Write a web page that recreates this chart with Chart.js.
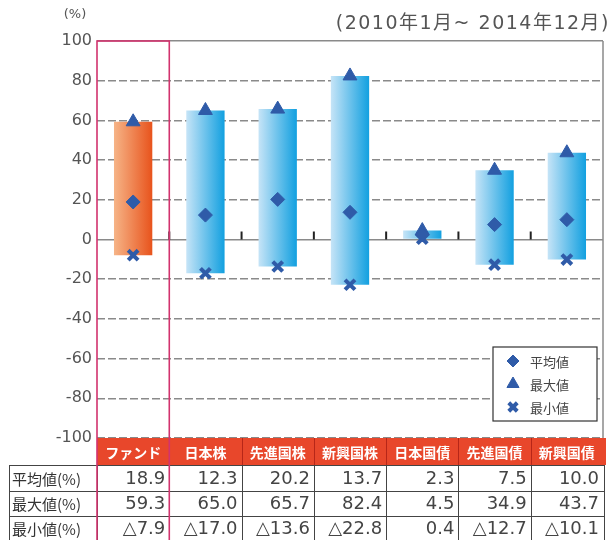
<!DOCTYPE html>
<html>
<head>
<meta charset="utf-8">
<script src="https://cdn.jsdelivr.net/npm/chart.js@4.4.1/dist/chart.umd.min.js"></script>
<style>
  body { margin: 0; background: #fff; }
  #wrap { position: relative; width: 614px; height: 540px; }
</style>
</head>
<body>
<div id="wrap"><canvas id="rangeChart" width="614" height="540"></canvas></div>
<script>
const categories = ["ファンド", "日本株", "先進国株", "新興国株", "日本国債", "先進国債", "新興国債"];
const avgValues = [18.9, 12.3, 20.2, 13.7, 2.3, 7.5, 10.0];
const maxValues = [59.3, 65.0, 65.7, 82.4, 4.5, 34.9, 43.7];
const minValues = [-7.9, -17.0, -13.6, -22.8, 0.4, -12.7, -10.1];
const rowLabels = ["平均値(%)", "最大値(%)", "最小値(%)"];
const legendLabels = ["平均値", "最大値", "最小値"];
const yTicks = [100, 80, 60, 40, 20, 0, -20, -40, -60, -80, -100];
const periodText = "(2010年1月~ 2014年12月)";

const FONT = "'Noto Sans CJK JP', 'Noto Sans', sans-serif";
const NUMFONT = "'DejaVu Sans', 'Noto Sans CJK JP', sans-serif";
const markerColor = "#2f5ba8";

function fmt(v) {
  // negative values use the triangle mark instead of a minus sign
  return v < 0 ? "△" + Math.abs(v).toFixed(1) : v.toFixed(1);
}

function barGradient(context) {
  const chart = context.chart;
  const area = chart.chartArea;
  if (!area) return "#5ab4e6";
  const x = chart.scales.x.getPixelForValue(context.dataIndex);
  const half = (area.right - area.left) / categories.length * 0.53 / 2;
  const g = chart.ctx.createLinearGradient(x - half, 0, x + half, 0);
  if (context.dataIndex === 0) {
    g.addColorStop(0, "#f6b487");
    g.addColorStop(1, "#e8531c");
  } else {
    g.addColorStop(0, "#c6e4f7");
    g.addColorStop(1, "#12a0e0");
  }
  return g;
}

const extrasPlugin = {
  id: "extras",
  beforeDatasetsDraw(chart) {
    const ctx = chart.ctx;
    const area = chart.chartArea;
    const y0 = chart.scales.y.getPixelForValue(0);
    const w = (area.right - area.left) / categories.length;
    ctx.save();
    // right border
    ctx.strokeStyle = "#8a8a8a";
    ctx.lineWidth = 1.5;
    ctx.beginPath();
    ctx.moveTo(area.right, area.top);
    ctx.lineTo(area.right, area.bottom);
    ctx.stroke();
    // small marks on the zero line between categories
    ctx.strokeStyle = "#222";
    ctx.lineWidth = 2;
    for (let i = 1; i < categories.length; i++) {
      const x = area.left + i * w;
      ctx.beginPath();
      ctx.moveTo(x, y0 - 8);
      ctx.lineTo(x, y0);
      ctx.stroke();
    }
    ctx.restore();
  },
  afterDraw(chart) {
    const ctx = chart.ctx;
    const area = chart.chartArea;
    const w = (area.right - area.left) / categories.length;
    ctx.save();

    // titles
    ctx.fillStyle = "#555";
    ctx.font = "13px " + NUMFONT;
    ctx.textAlign = "center";
    ctx.textBaseline = "middle";
    ctx.fillText("(%)", 75, 15);
    ctx.font = "19px " + NUMFONT;
    ctx.letterSpacing = "1.5px";
    ctx.textAlign = "right";
    ctx.fillText(periodText, 610, 24);
    ctx.letterSpacing = "0px";

    // category header row
    const hTop = area.bottom;
    const rows = [hTop, hTop + 27, hTop + 53, hTop + 78, hTop + 103];
    ctx.fillStyle = "#e8472b";
    ctx.fillRect(area.left, rows[0], area.right - area.left + 3, rows[1] - rows[0]);
    ctx.strokeStyle = "rgba(170,30,20,0.8)";
    ctx.lineWidth = 1;
    for (let i = 1; i < categories.length; i++) {
      const x = Math.round(area.left + i * w) + 0.5;
      ctx.beginPath();
      ctx.moveTo(x, rows[0]);
      ctx.lineTo(x, rows[1]);
      ctx.stroke();
    }
    ctx.fillStyle = "#fff";
    ctx.font = "bold 14px " + FONT;
    ctx.textAlign = "center";
    categories.forEach((c, i) => {
      ctx.fillText(c, chart.scales.x.getPixelForValue(i), (rows[0] + rows[1]) / 2 + 1);
    });

    // value table
    const tableRows = [avgValues, maxValues, minValues];
    ctx.strokeStyle = "#444";
    ctx.lineWidth = 1;
    for (let r = 1; r < rows.length; r++) {
      ctx.beginPath();
      ctx.moveTo(9, rows[r] + 0.5);
      ctx.lineTo(area.right + 2, rows[r] + 0.5);
      ctx.stroke();
    }
    const vx = [9.5];
    for (let i = 0; i <= categories.length; i++) vx.push(Math.round(area.left + i * w) + 0.5);
    vx[vx.length - 1] = area.right + 1.5;
    vx.forEach((x) => {
      ctx.beginPath();
      ctx.moveTo(x, rows[1]);
      ctx.lineTo(x, rows[4]);
      ctx.stroke();
    });
    ctx.textBaseline = "middle";
    tableRows.forEach((vals, r) => {
      const cy = (rows[r + 1] + rows[r + 2]) / 2 + 1;
      ctx.fillStyle = "#333";
      ctx.font = "15px " + FONT;
      ctx.textAlign = "left";
      ctx.fillText(rowLabels[r], 12, cy);
      ctx.fillStyle = "#444";
      ctx.font = "18px " + NUMFONT;
      ctx.textAlign = "right";
      vals.forEach((v, i) => {
        ctx.fillText(fmt(v), area.left + (i + 1) * w - 4, cy);
      });
    });

    // pink frame around the fund column
    ctx.strokeStyle = "#d2336e";
    ctx.lineWidth = 1.6;
    ctx.strokeRect(area.left, area.top, w, 540 - area.top + 2);

    // legend box
    const lx = 493, ly = 347, lw = 104, lh = 74;
    ctx.fillStyle = "#fff";
    ctx.fillRect(lx, ly, lw, lh);
    ctx.strokeStyle = "#333";
    ctx.lineWidth = 1.2;
    ctx.strokeRect(lx, ly, lw, lh);
    const styles = [
      { pointStyle: "rectRot", radius: 6, borderWidth: 1 },
      { pointStyle: "triangle", radius: 7, borderWidth: 1 },
      { pointStyle: "crossRot", radius: 6, borderWidth: 4 }
    ];
    legendLabels.forEach((t, i) => {
      const y = ly + 14 + i * 23;
      ctx.fillStyle = markerColor;
      ctx.strokeStyle = markerColor;
      ctx.lineWidth = styles[i].borderWidth;
      Chart.helpers.drawPoint(ctx, { pointStyle: styles[i].pointStyle, radius: styles[i].radius, borderWidth: styles[i].borderWidth, rotation: 0 }, lx + 20, y);
      ctx.fillStyle = "#444";
      ctx.font = "13px " + FONT;
      ctx.textAlign = "left";
      ctx.fillText(t, lx + 37, y + 1);
    });
    ctx.restore();
  }
};

const ctx = document.getElementById("rangeChart").getContext("2d");
new Chart(ctx, {
  data: {
    labels: categories,
    datasets: [
      {
        type: "bar",
        label: "範囲",
        data: minValues.map((v, i) => [v, maxValues[i]]),
        backgroundColor: barGradient,
        borderWidth: 0,
        categoryPercentage: 1,
        barPercentage: 0.53,
        order: 10
      },
      {
        type: "line",
        label: legendLabels[0],
        data: avgValues,
        showLine: false,
        pointStyle: "rectRot",
        pointRadius: 7,
        pointBackgroundColor: markerColor,
        pointBorderColor: markerColor,
        order: 1
      },
      {
        type: "line",
        label: legendLabels[1],
        data: maxValues,
        showLine: false,
        pointStyle: "triangle",
        pointRadius: 8,
        pointBackgroundColor: markerColor,
        pointBorderColor: markerColor,
        order: 1
      },
      {
        type: "line",
        label: legendLabels[2],
        data: minValues,
        showLine: false,
        pointStyle: "crossRot",
        pointRadius: 7,
        pointBorderWidth: 4,
        pointBorderColor: markerColor,
        order: 1
      }
    ]
  },
  options: {
    responsive: false,
    animation: false,
    layout: { padding: { top: 41, bottom: 102, right: 3, left: 0 } },
    scales: {
      x: {
        display: false,
        offset: true
      },
      y: {
        min: -100,
        max: 100,
        afterFit: (scale) => { scale.width = 97; },
        afterBuildTicks: (scale) => { scale.ticks = yTicks.map((v) => ({ value: v })); },
        ticks: {
          padding: 5,
          color: "#555",
          font: { family: NUMFONT, size: 16 }
        },
        grid: {
          drawTicks: false,
          color: "#8a8a8a",
          lineWidth: 1.5
        },
        border: {
          display: false,
          dash: (c) => (c.tick && (c.tick.value === 0 || c.tick.value === 100) ? [] : [8, 3])
        }
      }
    },
    plugins: {
      legend: { display: false },
      tooltip: { enabled: false }
    }
  },
  plugins: [extrasPlugin]
});
</script>
</body>
</html>
